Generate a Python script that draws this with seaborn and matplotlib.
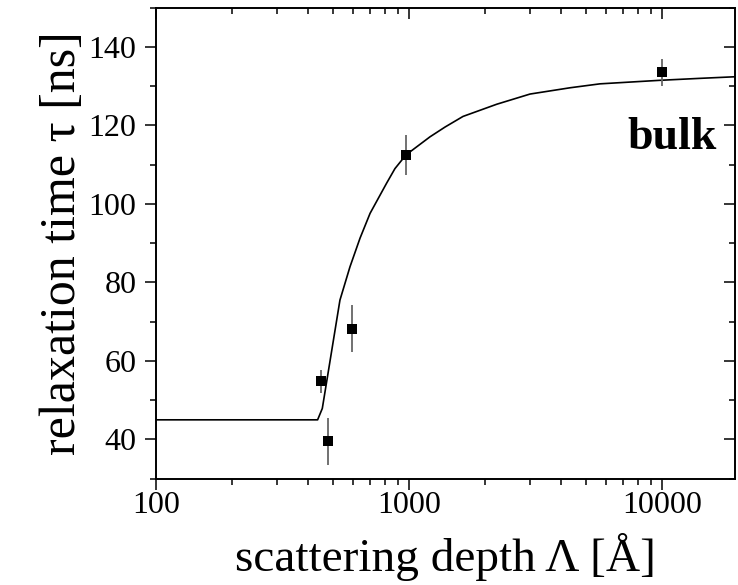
import matplotlib
matplotlib.use("Agg")
import matplotlib.pyplot as plt
import seaborn as sns
import pandas as pd
from matplotlib.ticker import FixedLocator, LogLocator, MultipleLocator, NullFormatter

# ---- data ----
depth = [450, 480, 593, 975, 10000]
tau = [54.8, 39.5, 68.2, 112.5, 133.5]
tau_err = [3.0, 6.0, 6.0, 5.0, 3.5]

fit_depth = [100, 435, 454, 533, 584, 640, 701, 815, 879, 972, 1209, 1387,
             1633, 2218, 3004, 4325, 5675, 9790, 14100, 19300]
fit_tau = [45.0, 45.0, 47.9, 75.5, 84.0, 91.3, 97.6, 105.3, 109.0, 112.5,
           117.1, 119.6, 122.3, 125.4, 128.0, 129.6, 130.6, 131.5, 132.0, 132.4]

x_ticks = [100, 1000, 10000]
x_tick_labels = ["100", "1000", "10000"]
y_ticks = [40, 60, 80, 100, 120, 140]

sns.set_theme(style="white")
plt.rcParams["font.family"] = ["Liberation Serif", "DejaVu Serif"]
plt.rcParams["text.color"] = "black"
plt.rcParams["axes.labelcolor"] = "black"

fig = plt.figure(figsize=(7.38, 5.85), dpi=100)
W, H = 738, 585
L, R, T, B = 156, 734.5, 7.7, 478.7
ax = fig.add_axes([L / W, (H - B) / H, (R - L) / W, (B - T) / H])

df_fit = pd.DataFrame({"depth": fit_depth, "tau": fit_tau})
df_pts = pd.DataFrame({"depth": depth, "tau": tau, "err": tau_err})

sns.lineplot(data=df_fit, x="depth", y="tau", ax=ax, color="black",
             linewidth=1.2, estimator=None, sort=False, zorder=2)
ax.errorbar(df_pts["depth"], df_pts["tau"], yerr=df_pts["err"], fmt="none",
            ecolor="#666666", elinewidth=1.3, capsize=0, zorder=3)
sns.scatterplot(data=df_pts, x="depth", y="tau", ax=ax, marker="s", s=60,
                color="black", edgecolor="black", linewidth=0, zorder=4)

ax.set_xscale("log")
ax.set_xlim(100, 19300)
ax.set_ylim(30, 150)

ax.xaxis.set_major_locator(FixedLocator(x_ticks))
ax.set_xticklabels(x_tick_labels)
ax.xaxis.set_minor_locator(LogLocator(base=10, subs=range(2, 10)))
ax.xaxis.set_minor_formatter(NullFormatter())
ax.yaxis.set_major_locator(FixedLocator(y_ticks))
ax.yaxis.set_minor_locator(MultipleLocator(10))

for sp in ax.spines.values():
    sp.set_visible(True)
    sp.set_color("black")
    sp.set_linewidth(1.4)

ax.tick_params(axis="both", which="major", direction="out", length=8, width=1.1,
               color="black", labelsize=23, labelcolor="black")
ax.tick_params(axis="both", which="minor", direction="out", length=4.5, width=1.1,
               color="black")
ax.tick_params(bottom=True, left=True, top=False, right=False, which="both")
ax.tick_params(axis="x", which="major", pad=1)
ax.tick_params(axis="y", which="major", pad=6)

# inward ticks on the top and right
axt = ax.twiny()
axt.set_xscale("log")
axt.set_xlim(ax.get_xlim())
axt.xaxis.set_major_locator(FixedLocator(x_ticks))
axt.xaxis.set_minor_locator(LogLocator(base=10, subs=range(2, 10)))
axt.xaxis.set_minor_formatter(NullFormatter())
axt.tick_params(axis="x", which="major", direction="in", length=8, width=1.1,
                labeltop=False, top=True, color="black")
axt.tick_params(axis="x", which="minor", direction="in", length=4.5, width=1.1,
                top=True, color="black")
axr = ax.twinx()
axr.set_ylim(ax.get_ylim())
axr.yaxis.set_major_locator(FixedLocator(y_ticks))
axr.yaxis.set_minor_locator(MultipleLocator(10))
axr.tick_params(axis="y", which="major", direction="in", length=8, width=1.1,
                labelright=False, right=True, color="black")
axr.tick_params(axis="y", which="minor", direction="in", length=4.5, width=1.1,
                right=True, color="black")
for a in (axt, axr):
    for sp in a.spines.values():
        sp.set_visible(False)

ax.set_xlabel("scattering depth \u039b [\u00c5]", fontsize=34, labelpad=9,
              color="black")
ax.set_ylabel("relaxation time \u03c4 [ns]", fontsize=36, labelpad=2,
              color="black")

ax.text(0.892, 0.70, "bulk", transform=ax.transAxes, ha="center", va="baseline",
        fontsize=33, fontweight="bold", color="black")

fig.savefig("out.png", dpi=100, facecolor="white")
